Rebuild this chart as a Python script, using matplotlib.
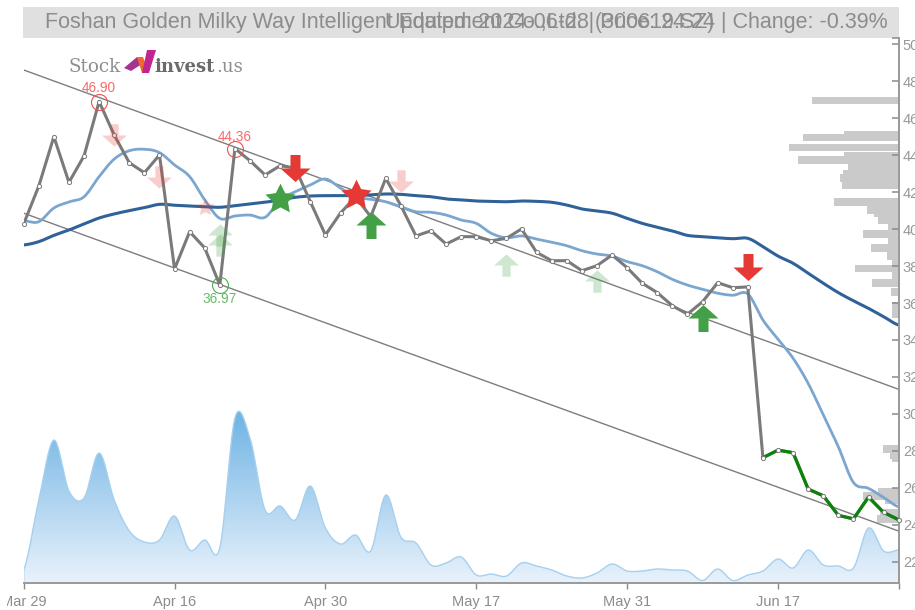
import numpy as np
import matplotlib
matplotlib.use('Agg')
import matplotlib.pyplot as plt
from matplotlib.colors import LinearSegmentedColormap
from matplotlib.patches import Polygon, Rectangle
from matplotlib.path import Path
from matplotlib.transforms import Bbox

plt.rcParams['font.family'] = ['Liberation Sans', 'DejaVu Sans']

close = [40.28, 42.33, 45.00, 42.53, 43.96, 46.90, 45.09, 43.59, 43.05, 44.01,
         37.84, 39.86, 38.98, 36.97, 44.36, 43.70, 42.93, 43.43, 43.31, 41.48,
         39.68, 40.87, 41.75, 40.67, 42.75, 41.27, 39.63, 39.91, 39.19, 39.59,
         39.59, 39.37, 39.50, 40.01, 38.74, 38.29, 38.29, 37.75, 38.02, 38.60,
         37.91, 37.07, 36.56, 35.85, 35.40, 36.07, 37.10, 36.83, 36.87, 27.63,
         28.04, 27.90, 25.93, 25.57, 24.51, 24.32, 25.50, 24.67, 24.27]

ma_short = [40.45, 40.40, 41.14, 41.47, 41.75, 42.84, 43.79, 44.24, 44.32, 44.14,
            43.47, 42.84, 41.58, 40.58, 40.71, 40.76, 40.64, 41.58, 42.02, 42.39,
            42.71, 42.22, 41.75, 41.61, 41.48, 41.21, 40.94, 40.91, 40.76, 40.49,
            40.31, 39.77, 39.53, 39.63, 39.46, 39.29, 39.10, 38.83, 38.65, 38.54,
            38.24, 38.02, 37.69, 37.28, 36.97, 36.74, 36.53, 36.42, 36.49, 35.08,
            34.04, 33.01, 31.65, 29.94, 28.22, 26.29, 25.97, 25.48, 24.97]

ma_long = [39.14, 39.32, 39.66, 39.95, 40.28, 40.60, 40.82, 41.00, 41.16, 41.34,
           41.29, 41.25, 41.21, 41.18, 41.27, 41.36, 41.45, 41.58, 41.72, 41.79,
           41.81, 41.81, 41.81, 41.85, 41.90, 41.88, 41.81, 41.75, 41.63, 41.58,
           41.52, 41.50, 41.48, 41.52, 41.50, 41.45, 41.30, 41.09, 40.98, 40.86,
           40.58, 40.31, 40.10, 39.90, 39.66, 39.59, 39.53, 39.48, 39.50, 39.05,
           38.54, 38.15, 37.61, 37.07, 36.56, 36.12, 35.71, 35.26, 34.81]

volume = [13, 83, 143, 92, 85, 130, 83, 52, 41, 43,
          67, 33, 43, 35, 165, 145, 73, 77, 63, 97,
          55, 39, 48, 32, 88, 46, 40, 18, 20, 26,
          8, 9, 7, 20, 17, 13, 7, 5, 10, 19,
          12, 12, 14, 13, 12, 2.5, 14, 2.5, 8, 12,
          24, 15, 33, 18, 17, 15, 55, 32, 33]

hist_price = [46.97, 45.12, 44.96, 44.43, 43.98, 43.74, 43.36, 42.98, 42.77, 42.39,
              41.47, 41.03, 40.87, 40.49, 40.11, 39.73, 39.36, 38.98, 38.54, 38.22,
              37.87, 37.46, 37.08, 36.60, 35.84, 35.40, 28.10, 27.77, 27.61, 25.77,
              25.55, 25.34, 24.63, 24.31]
hist_size = [87, 55, 96, 110, 55, 101, 51, 56, 59, 57,
             65, 32, 25, 21, 11, 36, 11, 28, 12, 7,
             44, 7, 27, 8, 7, 7, 16, 9, 7, 21,
             36, 14, 19, 22]

channel_x = [0, 58]
channel_upper = [48.61, 31.33]
channel_lower = [40.86, 23.66]

tick_index = [0, 10, 20, 30, 40, 50, 58]
tick_dates = ['Mar 29', 'Apr 16', 'Apr 30', 'May 17', 'May 31', 'Jun 17', '']
price_ticks = list(range(22, 52, 2))

# signal markers: index, price
sell_strong = ([18, 48], [43.31, 37.95])
sell_light = ([6, 9, 25], [45.09, 42.82, 42.60])
buy_strong = ([23, 45], [40.20, 35.19])
buy_light = ([13, 13, 32, 38], [39.68, 39.14, 38.06, 37.19])
star_green = ([17], [41.63])
star_red = ([22], [41.85])
star_light = ([12], [41.18])

title_left = 'Foshan Golden Milky Way Intelligent Equipment Co.,Ltd. | Price: 24.24 | Change: -0.39%'
title_over = 'Updated: 2024-06-28 (300619.SZ)'


def smooth(y, n=12):
    # catmull-rom through the daily values, the source chart draws splines
    y = np.array(y, dtype=float)
    p = np.concatenate([[y[0]], y, [y[-1]]])
    xs, ys = [], []
    for i in range(len(y) - 1):
        t = np.linspace(0, 1, n, endpoint=False)
        a, b, c, d = p[i], p[i + 1], p[i + 2], p[i + 3]
        ys.append(0.5 * (2 * b + (c - a) * t + (2 * a - 5 * b + 4 * c - d) * t ** 2
                         + (3 * b - a - 3 * c + d) * t ** 3))
        xs.append(i + t)
    xs.append([len(y) - 1])
    ys.append([y[-1]])
    return np.concatenate(xs), np.concatenate(ys)


arrow_down = Path([(-5, 13.5), (5, 13.5), (5, 0), (15, 0), (0, -13.5), (-15, 0), (-5, 0), (-5, 13.5)], closed=True)
arrow_up = Path([(-5, -13.5), (5, -13.5), (5, 0), (15, 0), (0, 13.5), (-15, 0), (-5, 0), (-5, -13.5)], closed=True)
star = Path.unit_regular_star(5, innerCircle=0.5)

fig = plt.figure(figsize=(9.15, 6.10), dpi=100)
pos = [23.7 / 915, 27 / 610, 875 / 915, 545 / 610]
xlim = (0, 58)
ylim = (20.85, 50.34)

# header and logo in pixel coordinates
bg = fig.add_axes([0, 0, 1, 1], zorder=0)
bg.set_xlim(0, 915)
bg.set_ylim(610, 0)
bg.axis('off')
bg.add_patch(Rectangle((23, 7), 875.5, 31, color='#e0e0e0', lw=0))
bg.text(45, 22.5, title_left, fontsize=15.5, color='#8c8c8c', va='center', ha='left')
bg.text(385, 22.5, title_over, fontsize=15.5, color='#8c8c8c', va='center', ha='left')
bg.text(68, 72, 'Stock', family='DejaVu Serif', fontsize=13.2, color='#8f8f8f', ha='left', va='baseline')
bg.text(154, 72, 'invest', family='DejaVu Serif', weight='bold', fontsize=13, color='#6a6a6a', ha='left', va='baseline')
bg.text(216, 72, '.us', family='DejaVu Serif', fontsize=13, color='#8f8f8f', ha='left', va='baseline')
bg.add_patch(Polygon([(124, 68), (137, 57), (142, 64), (131, 71)], color='#a8338f', lw=0))
bg.add_patch(Polygon([(137, 57), (143, 57), (149, 73), (142, 73)], color='#ee6a2c', lw=0))
bg.add_patch(Polygon([(142, 73), (149, 73), (156, 50), (147, 50)], color='#c2258f', lw=0))

# volume at price bars
ax_hist = fig.add_axes(pos, zorder=1)
ax_hist.barh(hist_price, hist_size, height=0.4, color='#cacaca', lw=0)
ax_hist.set_xlim(875, 0)
ax_hist.set_ylim(ylim)
ax_hist.axis('off')

# volume area with vertical gradient
ax_vol = fig.add_axes(pos, zorder=2)
ax_vol.patch.set_alpha(0)
vx, vy = smooth(volume)
vy = np.clip(vy, 0, None)
cmap = LinearSegmentedColormap.from_list('vol', ['#e9f2fb', '#6fb3e4'])
im = ax_vol.imshow(np.linspace(1, 0, 200).reshape(-1, 1), cmap=cmap, aspect='auto',
                   extent=(0, 58, 0, max(vy)), zorder=1)
area = Polygon(np.column_stack([np.r_[vx, 58, 0], np.r_[vy, 0, 0]]), transform=ax_vol.transData,
               facecolor='none', edgecolor='none')
ax_vol.add_patch(area)
im.set_clip_path(area)
ax_vol.plot(np.r_[0, vx, 58], np.r_[0, vy, 0], color='#a5d0ef', lw=1, zorder=2)
ax_vol.set_xlim(xlim)
ax_vol.set_ylim(0, 545)
ax_vol.axis('off')

ax = fig.add_axes(pos, zorder=3)
ax.patch.set_alpha(0)
idx = np.arange(len(close))

ax.plot(channel_x, channel_upper, color='#7d7d7d', lw=1)
ax.plot(channel_x, channel_lower, color='#7d7d7d', lw=1)

sx, sy = smooth(ma_short)
ax.plot(sx, sy, color='#7ba6d0', lw=2)
lx, ly = smooth(ma_long)
ax.plot(lx, ly, color='#2f6299', lw=2.2)

ax.plot(idx, close, color='#7a7a7a', lw=2.2, zorder=4)
ax.plot(idx[49:], close[49:], color='#0b830b', lw=2.3, zorder=4)
ax.plot(idx, close, ls='none', marker='o', ms=3, mfc='white', mec='#7a7a7a', mew=0.7, zorder=5, clip_on=False)

ax.scatter(*sell_strong, marker=arrow_down, s=467, color='#e53935', lw=0, zorder=6)
ax.scatter(*sell_light, marker=arrow_down, s=320, color='#e53935', alpha=0.25, lw=0, zorder=6)
ax.scatter(*buy_strong, marker=arrow_up, s=467, color='#43a047', lw=0, zorder=6)
ax.scatter(*buy_light, marker=arrow_up, s=320, color='#43a047', alpha=0.25, lw=0, zorder=6)
ax.scatter(*star_green, marker=star, s=520, color='#43a047', lw=0, zorder=6)
ax.scatter(*star_red, marker=star, s=520, color='#e53935', lw=0, zorder=6)
ax.scatter(*star_light, marker=star, s=180, color='#e53935', alpha=0.25, lw=0, zorder=6)

# high and low callouts
ax.plot([5, 14], [46.90, 44.36], ls='none', marker='o', ms=11.5, mfc='none', mec='#f05050', mew=0.8, zorder=7)
ax.plot([13], [36.97], ls='none', marker='o', ms=11.5, mfc='none', mec='#4caf50', mew=0.8, zorder=7)
ax.text(5, 47.24, '46.90', color='#f96a6a', fontsize=9.8, ha='center', va='bottom', zorder=7)
ax.text(14, 44.58, '44.36', color='#f96a6a', fontsize=9.8, ha='center', va='bottom', zorder=7)
ax.text(13, 36.60, '36.97', color='#66bb6a', fontsize=9.8, ha='center', va='top', zorder=7)

ax.set_xlim(xlim)
ax.set_ylim(ylim)
ax.yaxis.tick_right()
ax.set_yticks(price_ticks + [ylim[1]])
ax.set_yticklabels([str(p) for p in price_ticks] + [''])
ax.set_xticks(tick_index)
ax.set_xticklabels(tick_dates)
ax.tick_params(axis='y', direction='in', length=5, width=1.1, color='#8a8a8a', labelcolor='#999999',
               labelsize=10.5, pad=3)
ax.tick_params(axis='x', direction='out', length=4.5, width=1, color='#8a8a8a', labelcolor='#8c8c8c',
               labelsize=10.5, pad=4)
for name in ['top', 'left']:
    ax.spines[name].set_visible(False)
for name in ['right', 'bottom']:
    ax.spines[name].set_color('#999999')
    ax.spines[name].set_linewidth(1.4)

# first date label is cut off at the left in the source
first = ax.get_xticklabels()[0]
first.set_clip_on(True)
first.set_clip_box(Bbox([[7, 0], [915, 610]]))

fig.savefig('out.png', dpi=100)
plt.close(fig)
